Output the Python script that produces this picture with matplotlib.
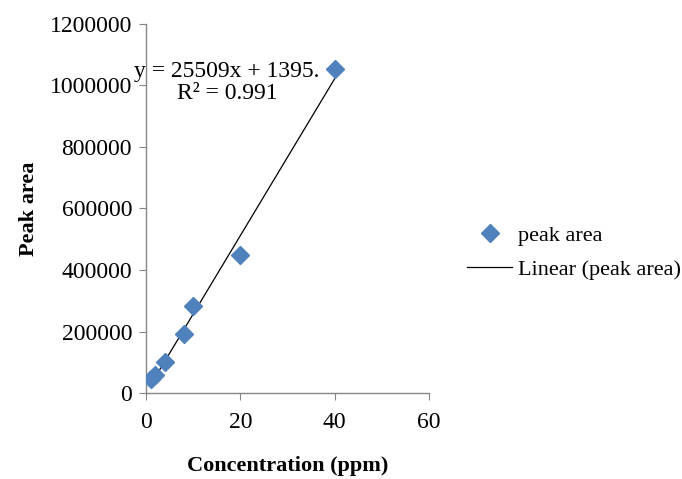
import numpy as np
import matplotlib.pyplot as plt

plt.rcParams['font.family'] = ['Liberation Serif', 'DejaVu Serif']

# concentration (ppm) vs peak area
conc = [1, 2, 4, 8, 10, 20, 40]
peak_area = [45000, 60000, 100000, 192000, 284000, 448000, 1052000]

# trendline as printed on the chart
slope = 25509
intercept = 1395

x_ticks = [0, 20, 40, 60]
y_ticks = [0, 200000, 400000, 600000, 800000, 1000000, 1200000]

fig = plt.figure(figsize=(6.82, 4.79), dpi=100)
ax = fig.add_axes([0.214, 0.1795, 0.415, 0.7705])

ax.plot(conc, peak_area, linestyle='none', marker='D', markersize=9,
        color='#4F81BD', label='peak area', zorder=3)
fit_x = np.array([conc[0], conc[-1]])
ax.plot(fit_x, slope * fit_x + intercept, color='black', linewidth=0.9,
        label='Linear (peak area)', zorder=2)

ax.set_xlim(0, 60)
ax.set_ylim(0, 1200000)
ax.set_xticks(x_ticks)
ax.set_yticks(y_ticks)
ax.set_xticklabels([str(t) for t in x_ticks])
ax.set_yticklabels([str(t) for t in y_ticks])

for side in ('top', 'right'):
    ax.spines[side].set_visible(False)
for side in ('left', 'bottom'):
    ax.spines[side].set_color('#868686')
    ax.spines[side].set_linewidth(1.0)
ax.tick_params(direction='out', length=5, color='#868686', labelsize=17)
ax.tick_params(axis='x', pad=9)
ax.tick_params(axis='y', pad=5)

ax.set_xlabel('Concentration (ppm)', fontsize=16, fontweight='bold', labelpad=16)
ax.set_ylabel('Peak area', fontsize=16, fontweight='bold', labelpad=8)

ax.text(17.2, 1010000, 'y = 25509x + 1395.\nR² = 0.991', fontsize=17,
        ha='center', va='center', linespacing=1.05)

ax.legend(loc='center left', bbox_to_anchor=(1.065, 0.38), frameon=False,
          fontsize=16, handlelength=2.0, handletextpad=0.3, labelspacing=0.6)

fig.savefig('out.png', dpi=100)
